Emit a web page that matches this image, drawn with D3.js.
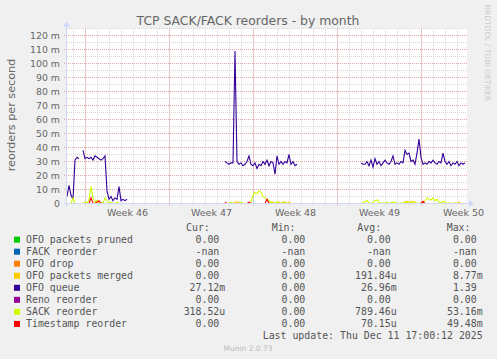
<!DOCTYPE html>
<html><head><meta charset="utf-8">
<script src="https://cdn.jsdelivr.net/npm/d3@7"></script>
<style>
html,body{margin:0;padding:0;background:#f0f0f0;}
svg{display:block;}
text{font-family:"DejaVu Sans",sans-serif;}
.mono text{font-family:"DejaVu Sans Mono",monospace;}
</style></head><body>
<svg id="c" width="497" height="359"></svg>
<script>
// ---------------- data ----------------
const title = "TCP SACK/FACK reorders - by month";
const yAxisTitle = "reorders per second";
const yTickValues = [0,10,20,30,40,50,60,70,80,90,100,110,120];
const yTickLabels = ["0","10 m","20 m","30 m","40 m","50 m","60 m","70 m","80 m","90 m","100 m","110 m","120 m"];
const xWeekLabels = ["Week 46","Week 47","Week 48","Week 49","Week 50"];
const startTime = Date.UTC(2025,10,8,11,0);
const endTime = Date.UTC(2025,11,11,19,0);
const stepHours = 4;
const segmentStarts = [0,79,147];   // sample index where each data segment begins

const _ = null;
const ofoQueue = [
  [5,13,6,3,31,33,32,_,38,32,33,32,33,31,34,33,32,31,32,34,9,3,5,2,4,3,12,2,3,2,3],
  [30,29,28,29,29,109,30,28,29,27,28,30,34,28,27,29,25,28,27,30,28,31,27,30,29,21,34,28,30,28,30,29,35,28,30,27,28],
  [29,28,28,30,27,31,26,32,28,30,27,29,31,29,28,30,34,28,29,28,30,29,38,35,36,30,31,28,36,46,33,28,29,28,30,29,31,29,28,30,29,36,30,28,30,27,29,28,30,27,29,28,29]
];
const sackReorder = [
  [0,0,0,4,0,0,0,_,0,1,0,3,12,4,1,2,0,1,0,4,2,0,1,0,0,1,0,0,0,0,0],
  [0,0,0,1,0,0,0,0,1,0,0,0,0,1,6,8,7,9,8,5,4,3,2,1,0,0,1,0,0,0,1,0,0,0,0,0,0],
  [0,0.5,1.5,2,0.5,0,1,2,2.5,1,0,0.5,0,1,0,0.5,1,1,0,0,0.5,0,1,0.5,0,1,0,0.5,0,0,0.5,1,2,4,3,2.5,4,2,3,1,0.5,1.5,1,0,0.5,0,0,0.5,0,0,0,0,0]
];
const ofoMerged = [
  [0,0,0,0,0,0,0,_,0,1,0,0,0,0,0,2,0,0,0,0,0,0,0,0,0,0,0,0,0,0,0],
  [0,0,0,0,0,1,1,1,0,0,0,0,0,0,0,0,0,0,0,0,0,0,0,1,1,0,1,1,0,1,1,0,1,0,0,0,0],
  [0,0,0,0,0,0,0,0,0,0,0,0,0,0,0,0,0,0,0,0,0,0,1,1.5,1,1,1.5,1,0,0,0,0,0,0,0,0,0,0,0,0,0,0,0,0,0,0,0,0,0,1,0,0,0]
];
const timestampReorder = [
  [0,0,0,0,0,0,0,_,0,0,0,0,4,0,0,1,2,0,0,0,0,0,0,0,0,0,0,0,0,0,0],
  [1,0,0,0,0,0,0,0,0,0,0,0,1,0,0,0,0,0,0,0,0,3,0,0,0,0,0,0,0,0,0,0,0,0,0,0,0],
  [0,0,0,0,0,0,0,0,0,0,0,0,0,0,0,0,0,0,0,0,0,0,0,0,0,0,0,0,0,0,0,1.5,0,0,0,0,0,0,0,0,0,0,0,0,0,0,0,0,0,0,0,0,0]
];
const zeroSeries = [
  [0,0,0,0,0,0,0,_,0,0,0,0,0,0,0,0,0,0,0,0,0,0,0,0,0,0,0,0,0,0,0],
  [0,0,0,0,0,0,0,0,0,0,0,0,0,0,0,0,0,0,0,0,0,0,0,0,0,0,0,0,0,0,0,0,0,0,0,0,0],
  [0,0,0,0,0,0,0,0,0,0,0,0,0,0,0,0,0,0,0,0,0,0,0,0,0,0,0,0,0,0,0,0,0,0,0,0,0,0,0,0,0,0,0,0,0,0,0,0,0,0,0,0,0]
];

const legendNames = ["OFO packets pruned","FACK reorder","OFO drop","OFO packets merged","OFO queue","Reno reorder","SACK reorder","Timestamp reorder"];
const legendColors = ["#00CC00","#0066B3","#FF8000","#FFCC00","#330099","#990099","#CCFF00","#FF0000"];
const curValues = ["0.00","-nan","0.00","0.00","27.12m","0.00","318.52u","0.00"];
const minValues = ["0.00","-nan","0.00","0.00","0.00","0.00","0.00","0.00"];
const avgValues = ["0.00","-nan","0.00","191.84u","26.96m","0.00","789.46u","70.15u"];
const maxValues = ["0.00","-nan","0.00","8.77m","1.39","0.00","53.16m","49.48m"];
const columnHeaders = ["Cur:","Min:","Avg:","Max:"];
const lastUpdate = "Last update: Thu Dec 11 17:00:12 2025";
const footer = "Munin 2.0.73";
const sideNote = "RRDTOOL / TOBI OETIKER";

// series drawn in legend order (null = no line)
const seriesData = [zeroSeries, null, zeroSeries, ofoMerged, ofoQueue, zeroSeries, sackReorder, timestampReorder];

// ---------------- drawing ----------------
const svg = d3.select("#c");
const L = 67, R = 467, T = 28.5, B = 203.5;
const x = d3.scaleUtc().domain([startTime, endTime]).range([L, R]);
const y = d3.scaleLinear().domain([0, 125]).range([B, T]);
const FONT = "#666666", AXIS = "#CFD6F8";

svg.append("rect").attr("width",497).attr("height",359).attr("fill","#f0f0f0");
svg.append("rect").attr("x",L).attr("y",T).attr("width",R-L).attr("height",B-T).attr("fill","#ffffff");

const grid = svg.append("g");
// minor horizontal
d3.range(0,126,5).filter(v => v%10 !== 0).forEach(v => {
  grid.append("line").attr("x1",L).attr("x2",R).attr("y1",y(v)).attr("y2",y(v))
    .attr("stroke","#d4d4d4").attr("stroke-dasharray","1,1");
});
// minor vertical (days)
d3.utcDay.range(new Date(startTime), new Date(endTime)).forEach(d => {
  grid.append("line").attr("x1",x(d)).attr("x2",x(d)).attr("y1",T).attr("y2",B+2)
    .attr("stroke","#d4d4d4").attr("stroke-dasharray","1,1");
});
// major horizontal
yTickValues.forEach(v => {
  grid.append("line").attr("x1",L-3).attr("x2",R).attr("y1",y(v)).attr("y2",y(v))
    .attr("stroke","#e4a4a4").attr("stroke-dasharray","1,1");
});
// major vertical (weeks)
const weeks = d3.utcMonday.range(new Date(startTime), new Date(endTime));
weeks.forEach(d => {
  grid.append("line").attr("x1",x(d)).attr("x2",x(d)).attr("y1",T).attr("y2",B+3)
    .attr("stroke","#e4a4a4").attr("stroke-dasharray","1,1");
});

// y tick labels
yTickValues.forEach((v,i) => {
  svg.append("text").attr("x",60).attr("y",y(v)+3.4).attr("text-anchor","end")
    .attr("font-size","9.4px").attr("fill",FONT).text(yTickLabels[i]);
});
// x week labels
weeks.forEach((d,i) => {
  const mid = d3.utcHour.offset(d, 84);
  svg.append("text").attr("x",x(mid)).attr("y",216).attr("text-anchor","middle")
    .attr("font-size","9.5px").attr("fill",FONT).text(xWeekLabels[i]);
});

// lines
const line = d3.line().defined(d => d.v != null).x(d => x(d.t)).y(d => y(d.v));
seriesData.forEach((series, si) => {
  if (!series) return;
  series.forEach((seg, k) => {
    const pts = seg.map((v, j) => ({t: startTime + (segmentStarts[k] + j) * stepHours * 3600e3, v}));
    svg.append("path").datum(pts).attr("d", line).attr("fill","none")
      .attr("stroke", legendColors[si]).attr("stroke-width",1.1);
  });
});

// axes
svg.append("line").attr("x1",L-3).attr("x2",R+3).attr("y1",B).attr("y2",B).attr("stroke",AXIS);
svg.append("line").attr("x1",L-0.5).attr("x2",L-0.5).attr("y1",B+3).attr("y2",T-3).attr("stroke",AXIS);
svg.append("path").attr("d",`M${R+7},${B} L${R+2},${B-3.5} L${R+2},${B+3.5} Z`).attr("fill",AXIS);
svg.append("path").attr("d",`M${L-0.5},${T-7} L${L-4},${T-2} L${L+3},${T-2} Z`).attr("fill",AXIS);

// title
svg.append("text").attr("x",248).attr("y",24.5).attr("text-anchor","middle")
  .attr("font-size","12.4px").attr("fill",FONT).text(title);
// y axis title
svg.append("text").attr("transform","translate(14.5,115) rotate(-90)").attr("text-anchor","middle")
  .attr("font-size","11.2px").attr("fill",FONT).text(yAxisTitle);
// side note
svg.append("text").attr("transform","translate(484.5,53) rotate(90)").attr("text-anchor","middle")
  .attr("font-size","7.5px").attr("fill","#cccccc").text(sideNote);

// legend
const rowY = i => 227.6 + i * 12.04;
const headerX = [186, 271.7, 357.3, 446.7];
const numEnd = [219.3, 305.3, 390.7, 476.7];
const lg = svg.append("g").attr("class","mono").attr("font-size","9.9px").attr("fill","#555555");
columnHeaders.forEach((h,i) => {
  lg.append("text").attr("x",headerX[i]).attr("y",rowY(0)+3.5).text(h);
});
const cols = [curValues, minValues, avgValues, maxValues];
legendNames.forEach((name,i) => {
  const cy = rowY(i+1);
  lg.append("rect").attr("x",14).attr("y",cy-3).attr("width",6).attr("height",6).attr("fill",legendColors[i]);
  lg.append("text").attr("x",26).attr("y",cy+3.5).text(name);
  cols.forEach((col,c) => {
    const s = col[i];
    const m = s.match(/^(.*?)([mu]?)$/);
    lg.append("text").attr("x",numEnd[c]).attr("y",cy+3.5).attr("text-anchor","end").text(m[1]);
    if (m[2]) lg.append("text").attr("x",numEnd[c]).attr("y",cy+3.5).text(m[2]);
  });
});
lg.append("text").attr("x",482.7).attr("y",rowY(9)+3.5).attr("text-anchor","end").text(lastUpdate);
svg.append("text").attr("x",248).attr("y",351).attr("text-anchor","middle")
  .attr("font-size","7.5px").attr("fill","#bbbbbb").text(footer);
</script>
</body></html>
